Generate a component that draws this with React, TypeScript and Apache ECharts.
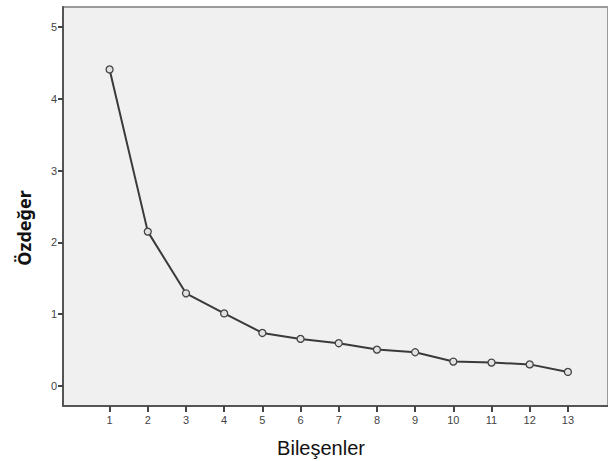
import React, { useEffect, useRef } from "react";
import * as echarts from "echarts";

const components = [1, 2, 3, 4, 5, 6, 7, 8, 9, 10, 11, 12, 13];
const eigenvalues = [4.41, 2.15, 1.29, 1.01, 0.738, 0.655, 0.595, 0.506, 0.469, 0.339, 0.325, 0.3, 0.195];
const xTicks = [1, 2, 3, 4, 5, 6, 7, 8, 9, 10, 11, 12, 13];
const yTicks = [0, 1, 2, 3, 4, 5];
const xTitle = "Bileşenler";
const yTitle = "Özdeğer";

export default function App() {
  const ref = useRef<HTMLDivElement>(null);
  useEffect(() => {
    const chart = echarts.init(ref.current!, null, { renderer: "svg" });
    chart.setOption({
      animation: false,
      backgroundColor: "#ffffff",
      grid: {
        left: 63,
        top: 7,
        right: -2,
        bottom: 55,
        show: true,
        backgroundColor: "#f0f0f0",
        borderColor: "#9a9a9a",
        borderWidth: 2,
      },
      graphic: [
        {
          type: "text",
          x: 321,
          y: 448,
          style: {
            text: xTitle,
            fontFamily: "Liberation Sans",
            fontSize: 20,
            fill: "#111",
            textAlign: "center",
            textVerticalAlign: "middle",
          },
        },
        {
          type: "text",
          x: 24,
          y: 228,
          rotation: Math.PI / 2,
          style: {
            text: yTitle,
            fontFamily: "Noto Sans",
            fontWeight: "bold",
            fontSize: 18,
            fill: "#111",
            textAlign: "center",
            textVerticalAlign: "middle",
          },
        },
      ],
      xAxis: {
        type: "value",
        min: -0.22,
        max: 14.05,
        splitLine: { show: false },
        axisLine: { show: true, onZero: false, lineStyle: { color: "#555", width: 2 } },
        axisTick: { show: true, customValues: xTicks, length: 6, lineStyle: { color: "#444", width: 2 } },
        axisLabel: { customValues: xTicks, fontFamily: "Liberation Sans", fontSize: 11, color: "#444", margin: 8 },
      },
      yAxis: {
        type: "value",
        min: -0.28,
        max: 5.28,
        splitLine: { show: false },
        axisLine: { show: true, onZero: false, lineStyle: { color: "#555", width: 2 } },
        axisTick: { show: true, customValues: yTicks, length: 5, lineStyle: { color: "#444", width: 2 } },
        axisLabel: { customValues: yTicks, fontFamily: "Liberation Sans", fontSize: 11, color: "#444", margin: 6 },
      },
      series: [
        {
          type: "line",
          data: components.map((c, i) => [c, eigenvalues[i]]),
          lineStyle: { color: "#3a3a3a", width: 2 },
          symbol: "circle",
          symbolSize: 7,
          itemStyle: { color: "#e2e2e2", borderColor: "#444", borderWidth: 1.3 },
          z: 5,
        },
      ],
    });
    return () => chart.dispose();
  }, []);
  return (
    <div
      ref={ref}
      style={{ position: "fixed", left: 0, top: 0, width: 608, height: 461 }}
    />
  );
}
